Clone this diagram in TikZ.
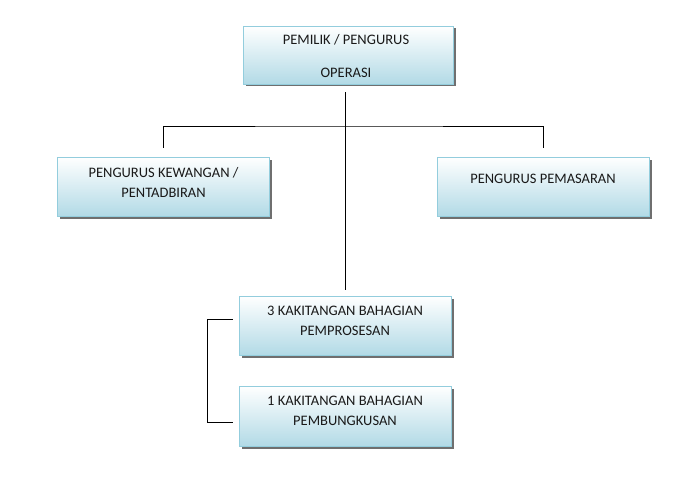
\documentclass[tikz,border=0pt]{standalone}
\usepackage{fontspec}
\setmainfont{Carlito}
\usetikzlibrary{calc,shadows}
\definecolor{boxline}{HTML}{93CDDD}
\definecolor{boxfill}{HTML}{B2DAE6}
\definecolor{shadowc}{HTML}{6F6F6F}
\begin{document}
\begin{tikzpicture}[x=1pt,y=-1pt,
  box/.style={draw=boxline, line width=0.9pt, top color=white, bottom color=boxfill,
    minimum width=212pt, minimum height=59pt, inner sep=0pt,
    drop shadow={shadow xshift=2.5pt, shadow yshift=-2.5pt, fill=shadowc, opacity=1}},
  lbl/.style={font=\fontsize{14.5}{17}\selectfont, text=black!90, inner sep=0pt,
    text height=10pt, text depth=0pt, anchor=center},
  conn/.style={draw=black, line width=0.8pt}]
\useasboundingbox[fill=white] (0,0) rectangle (700,476);

\node[box, minimum width=210pt, minimum height=58pt] (top) at (348,55) {};
\node[box] (kew) at (163,186.5) {};
\node[box] (pem) at (543,186.5) {};
\node[box] (p3) at (345,325.5) {};
\node[box, minimum height=60pt] (p1) at (345,416) {};

\node[lbl] (t1) at ($(top.center)+(-2,-15)$) {PEMILIK / PENGURUS};
\node[lbl] (t2) at ($(top.center)+(-2,18)$) {OPERASI};
\node[lbl] (k1) at ($(kew.center)+(0.5,-14.5)$) {PENGURUS KEWANGAN /};
\node[lbl] (k2) at ($(kew.center)+(0.5,5.5)$) {PENTADBIRAN};
\node[lbl] (m1) at ($(pem.center)+(0,-8.5)$) {PENGURUS PEMASARAN};
\node[lbl] (a1) at ($(p3.center)+(0,-15.5)$) {3 KAKITANGAN BAHAGIAN};
\node[lbl] (a2) at ($(p3.center)+(0,4.5)$) {PEMPROSESAN};
\node[lbl] (b1) at ($(p1.center)+(0,-16)$) {1 KAKITANGAN BAHAGIAN};
\node[lbl] (b2) at ($(p1.center)+(0,4)$) {PEMBUNGKUSAN};

\coordinate (j) at (345,126);
\draw[conn, shorten <=9pt, shorten >=9pt] (kew.north) |- (j) -| (pem.north);
\draw[conn, shorten <=8pt, shorten >=6pt] (p3.north |- top.south) -- (p3.north);
\draw[conn] ($(p3.west)+(-6,-6.5)$) -- ++(-25,0) |- ($(p1.west)+(-6,6)$);
\end{tikzpicture}
\end{document}
